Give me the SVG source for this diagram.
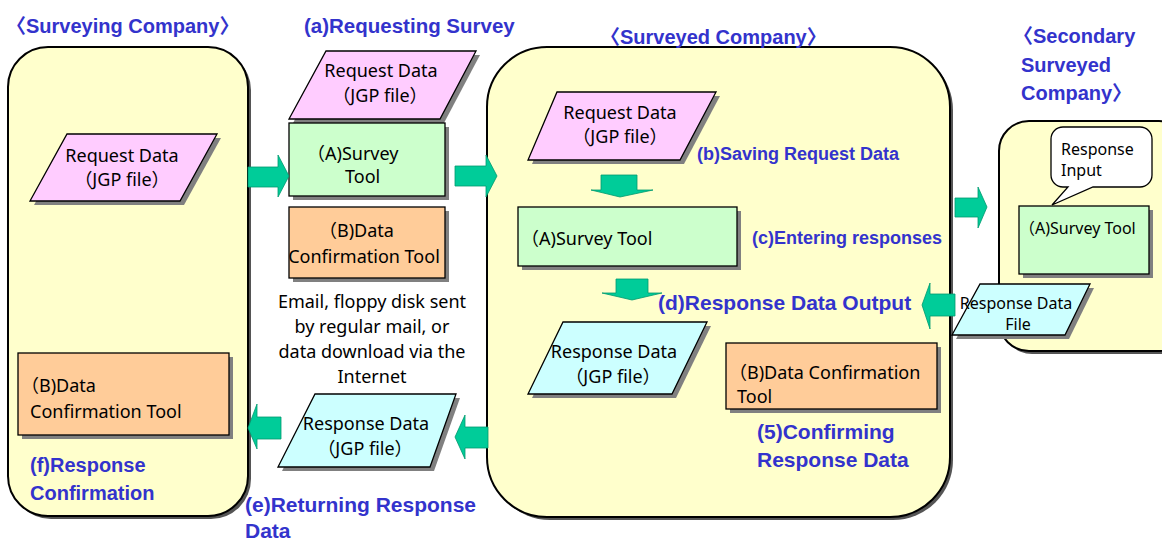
<svg xmlns="http://www.w3.org/2000/svg" width="1162" height="542" viewBox="0 0 1162 542">
<style>
.cont{fill:#FFFFCC;stroke:#000;stroke-width:2}
.csh{fill:#555}
.sh{fill:#808080}
.pink{fill:#FFCCFF;stroke:#000;stroke-width:1.3}
.cyan{fill:#CCFFFF;stroke:#000;stroke-width:1.3}
.green{fill:#CCFFCC;stroke:#000;stroke-width:1.3}
.orange{fill:#FFCC99;stroke:#000;stroke-width:1.3}
.arr{fill:#00CC99;stroke:#00996e;stroke-width:0.8}
.t{font-family:"Noto Sans","Noto Sans CJK JP",sans-serif;font-size:18px;fill:#000}
.ts{font-family:"Noto Sans","Noto Sans CJK JP",sans-serif;font-size:16px;fill:#000}
.m{text-anchor:middle}
.b{font-family:"Liberation Sans","Noto Sans CJK JP",sans-serif;font-weight:bold;fill:#3333CC}
</style>
<rect width="1162" height="542" fill="#fff"/>

<g id="surveying-company">
  <rect class="csh" x="11" y="50" width="240" height="469" rx="40"/>
  <rect class="cont" x="8" y="47" width="240" height="469" rx="40"/>
  <text class="b" x="6" y="33" font-size="20">〈Surveying Company〉</text>
</g>

<g id="surveyed-company">
  <rect class="csh" x="490" y="50" width="463" height="470" rx="60"/>
  <rect class="cont" x="487" y="47" width="463" height="470" rx="60"/>
  <text class="b" x="600" y="44" font-size="20">〈Surveyed Company〉</text>
</g>

<g id="secondary-company">
  <rect class="csh" x="1002" y="124" width="190" height="230" rx="30"/>
  <rect class="cont" x="999" y="121" width="190" height="230" rx="30"/>
  <text class="b" font-size="20"><tspan x="1013" y="43">〈Secondary</tspan><tspan x="1021" y="72">Surveyed</tspan><tspan x="1021" y="100">Company〉</tspan></text>
</g>

<g id="left-request-data">
  <polygon class="sh" points="71,138 221,138 184,205 34,205"/>
  <polygon class="pink" points="67,134 217,134 180,201 30,201"/>
  <text class="t m" x="122" y="162">Request Data</text>
  <text class="t m" x="122" y="186">（JGP file）</text>
</g>

<g id="left-confirmation-tool">
  <rect class="sh" x="22" y="357" width="211" height="82"/>
  <rect class="orange" x="18" y="353" width="211" height="82"/>
  <text class="t" x="21" y="392">（B)Data</text>
  <text class="t" x="30" y="418">Confirmation Tool</text>
</g>

<g id="label-f">
  <text class="b" font-size="20"><tspan x="30" y="472">(f)Response</tspan><tspan x="30" y="500">Confirmation</tspan></text>
</g>

<g id="label-a">
  <text class="b" x="304" y="33" font-size="20.5">(a)Requesting Survey</text>
</g>

<g id="mid-request-data">
  <polygon class="sh" points="330,55 480,55 444,123 293,123"/>
  <polygon class="pink" points="326,51 476,51 440,119 289,119"/>
  <text class="t m" x="381" y="77">Request Data</text>
  <text class="t m" x="380" y="102">（JGP file）</text>
</g>

<g id="mid-survey-tool">
  <rect class="sh" x="293" y="127" width="156" height="73"/>
  <rect class="green" x="289" y="123" width="156" height="73"/>
  <text class="t" x="307" y="160">（A)Survey</text>
  <text class="t" x="345" y="183">Tool</text>
</g>

<g id="mid-confirmation-tool">
  <rect class="sh" x="293" y="211" width="156" height="71"/>
  <rect class="orange" x="289" y="207" width="156" height="71"/>
  <text class="t" x="319" y="237">（B)Data</text>
  <text class="t m" x="364" y="263">Confirmation Tool</text>
</g>

<g id="transfer-note">
  <text class="t m" x="372" y="308">Email, floppy disk sent</text>
  <text class="t m" x="372" y="333">by regular mail, or</text>
  <text class="t m" x="372" y="358">data download via the</text>
  <text class="t m" x="372" y="383">Internet</text>
</g>

<g id="mid-response-data">
  <polygon class="sh" points="319,398 460,398 434,471 282,471"/>
  <polygon class="cyan" points="315,394 456,394 430,467 278,467"/>
  <text class="t m" x="366" y="430">Response Data</text>
  <text class="t m" x="365" y="455">（JGP file）</text>
</g>

<g id="label-e">
  <text class="b" font-size="21"><tspan x="245" y="512">(e)Returning Response</tspan><tspan x="245" y="538">Data</tspan></text>
</g>

<g id="right-request-data">
  <polygon class="sh" points="561,96 720,96 684,164 532,164"/>
  <polygon class="pink" points="557,92 716,92 680,160 528,160"/>
  <text class="t m" x="620" y="119">Request Data</text>
  <text class="t m" x="620" y="143">（JGP file）</text>
</g>

<g id="label-b">
  <text class="b" x="697" y="160" font-size="18">(b)Saving Request Data</text>
</g>

<g id="right-survey-tool">
  <rect class="sh" x="522" y="211" width="219" height="59"/>
  <rect class="green" x="518" y="207" width="219" height="59"/>
  <text class="t" x="521" y="245">（A)Survey Tool</text>
</g>

<g id="label-c">
  <text class="b" x="752" y="244" font-size="18">(c)Entering responses</text>
</g>

<g id="label-d">
  <text class="b" x="658" y="310" font-size="21">(d)Response Data Output</text>
</g>

<g id="right-response-data">
  <polygon class="sh" points="567,326 711,326 676,398 532,398"/>
  <polygon class="cyan" points="563,322 707,322 672,394 528,394"/>
  <text class="t m" x="614" y="358">Response Data</text>
  <text class="t m" x="613" y="383">（JGP file）</text>
</g>

<g id="right-confirmation-tool">
  <rect class="sh" x="730" y="347" width="211" height="66"/>
  <rect class="orange" x="726" y="343" width="211" height="66"/>
  <text class="t" x="729" y="379">（B)Data Confirmation</text>
  <text class="t" x="737" y="403">Tool</text>
</g>

<g id="label-5">
  <text class="b" font-size="21"><tspan x="757" y="439">(5)Confirming</tspan><tspan x="757" y="467">Response Data</tspan></text>
</g>

<g id="response-input-callout">
  <path d="M1063,127 H1140 A12,12 0 0 1 1152,139 V175 A12,12 0 0 1 1140,187 H1093 L1052,205 L1068,187 H1063 A12,12 0 0 1 1051,175 V139 A12,12 0 0 1 1063,127 Z" fill="#fff" stroke="#000" stroke-width="1.3"/>
  <text class="ts" x="1061" y="155">Response</text>
  <text class="ts" x="1061" y="176">Input</text>
</g>

<g id="secondary-survey-tool">
  <rect class="sh" x="1023" y="210" width="130" height="68"/>
  <rect class="green" x="1019" y="206" width="130" height="68"/>
  <text class="ts" x="1019" y="234">（A)Survey Tool</text>
</g>

<g id="connectors">
  <path class="arr" d="M248,167 H278 V155 L289,176 L278,197 V187 H248 Z"/>
  <path class="arr" d="M455,166 H486 V155 L497,176 L486,197 V186 H455 Z"/>
  <path class="arr" d="M601,175 H637 V190 H653 L620,197 L591,190 H601 Z"/>
  <path class="arr" d="M616,279 H648 V293 H662 L632,300 L602,293 H616 Z"/>
  <path class="arr" d="M281,417 H257 V404 L248,428 L257,449 V439 H281 Z"/>
  <path class="arr" d="M488,427 H465 V415 L455,437 L465,459 V448 H488 Z"/>
  <path class="arr" d="M955,294 H930 V283 L922,305 L930,329 V316 H955 Z"/>
  <path class="arr" d="M955,198 H978 V187 L987,207 L978,228 V217 H955 Z"/>
</g>

<g id="secondary-response-file">
  <polygon class="sh" points="984,288 1094,288 1069,339 956,339"/>
  <polygon class="cyan" points="980,284 1090,284 1065,335 952,335"/>
  <text class="ts m" x="1016" y="309">Response Data</text>
  <text class="ts m" x="1018" y="330">File</text>
</g>
</svg>
